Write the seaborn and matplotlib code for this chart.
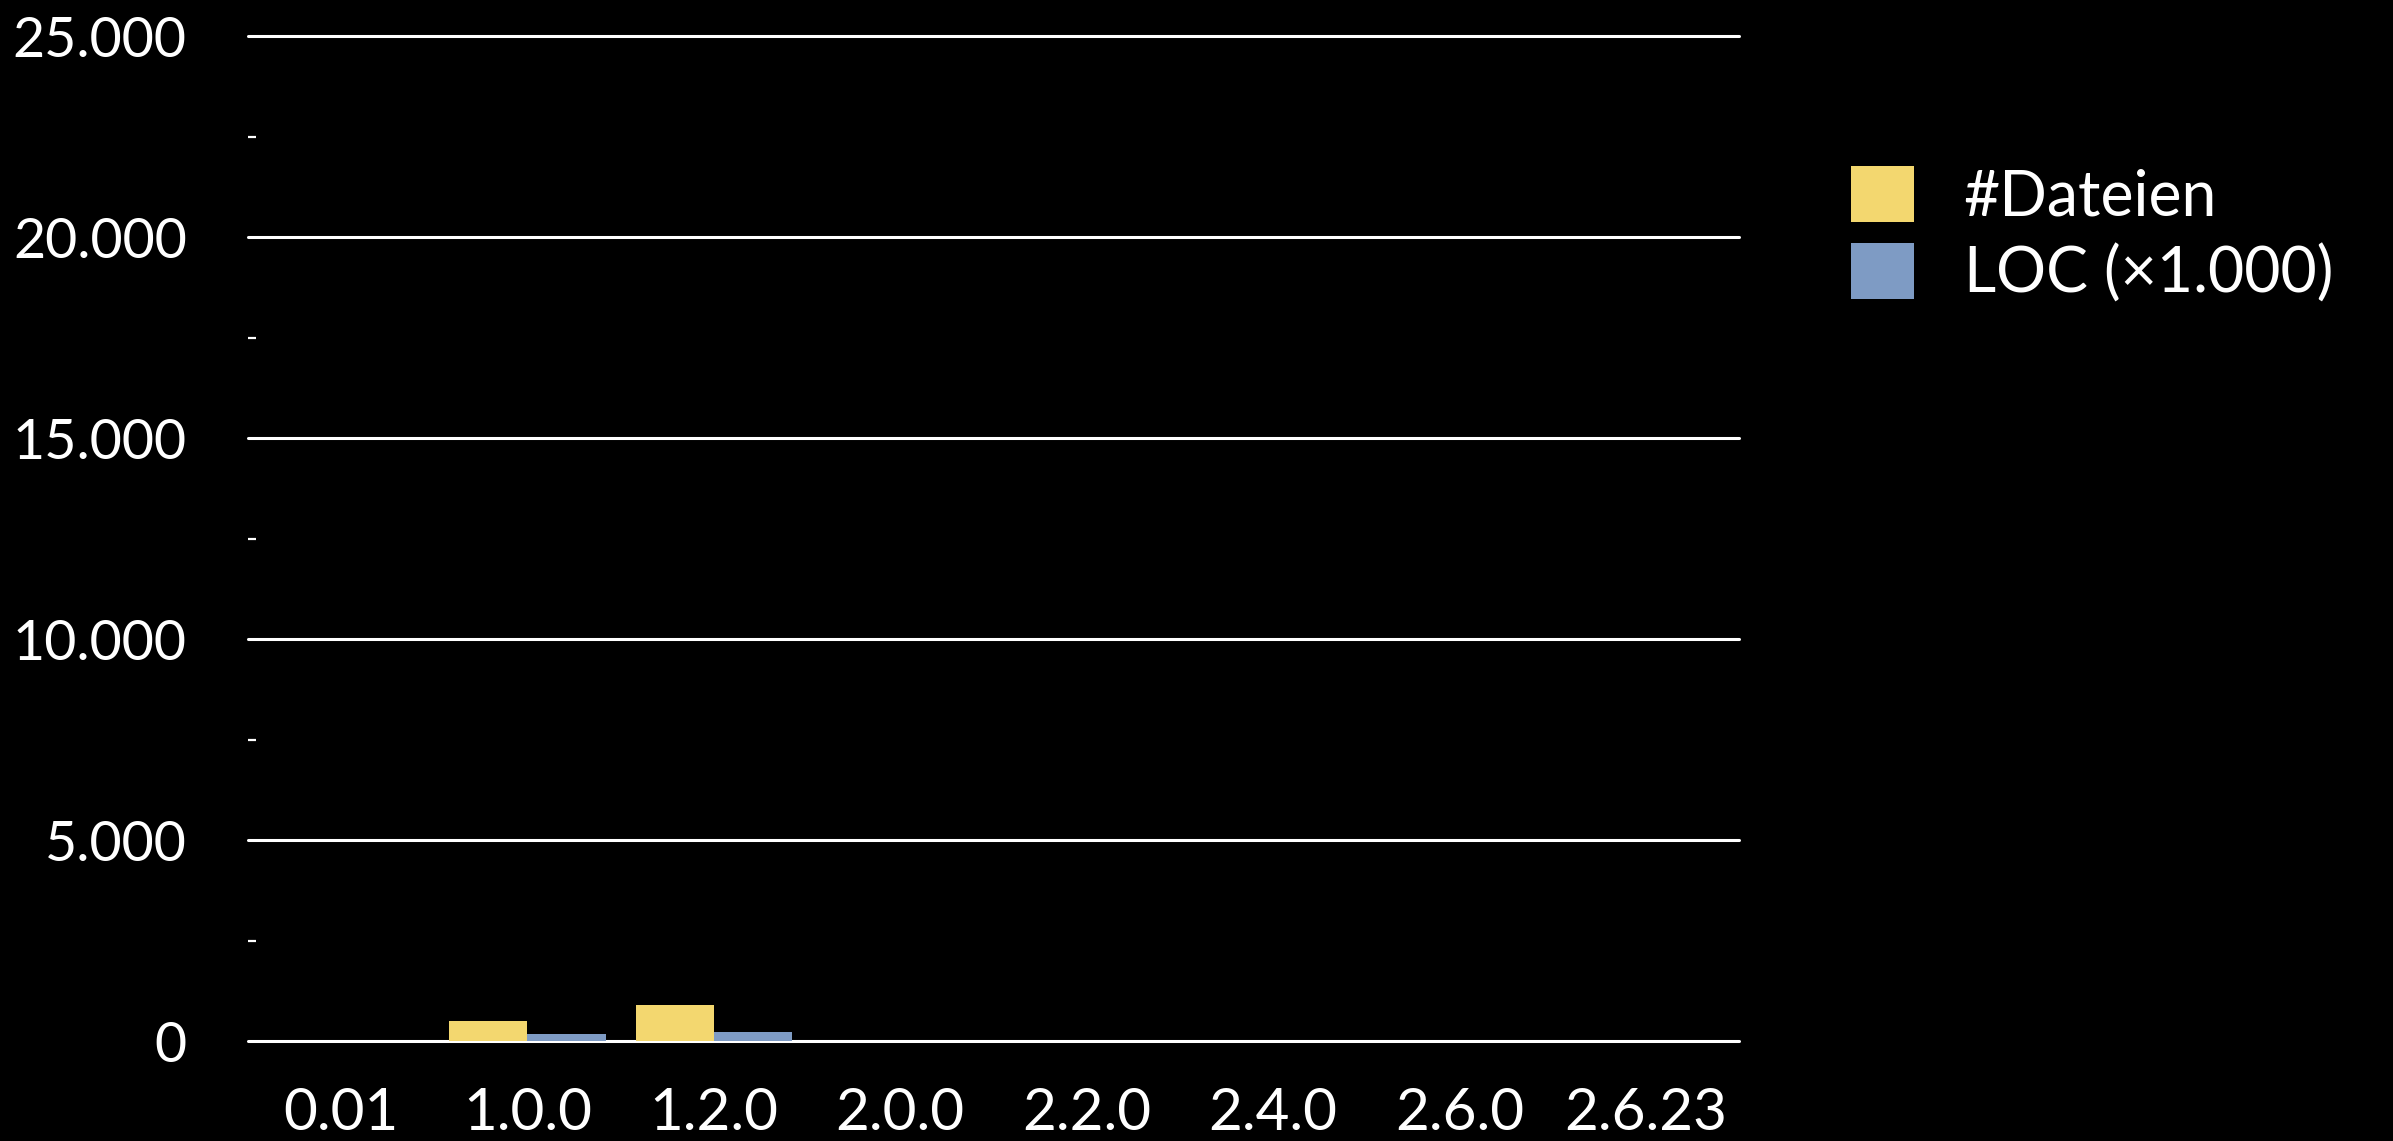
import matplotlib
matplotlib.use("Agg")
import matplotlib.pyplot as plt
from matplotlib.ticker import FuncFormatter, MultipleLocator
import pandas as pd
import seaborn as sns

# Linux kernel releases: number of files and lines of code (in thousands)
versions = ["0.01", "1.0.0", "1.2.0", "2.0.0", "2.2.0", "2.4.0", "2.6.0", "2.6.23"]
dateien = [0, 500, 900, 0, 0, 0, 0, 0]
loc_k = [0, 175, 220, 0, 0, 0, 0, 0]
series_names = ["#Dateien", "LOC (×1.000)"]
y_ticks = [0, 5000, 10000, 15000, 20000, 25000]

colors = {"#Dateien": "#F3D76F", "LOC (×1.000)": "#7E9BC4"}

df = pd.DataFrame({
    "Version": versions * 2,
    "Serie": [series_names[0]] * len(versions) + [series_names[1]] * len(versions),
    "Wert": dateien + loc_k,
})

sns.set_theme(style="dark")
plt.rcParams["font.family"] = ["Lato", "DejaVu Sans"]
plt.rcParams["text.color"] = "white"

fig = plt.figure(figsize=(23.93, 11.41), dpi=100, facecolor="black")
ax = fig.add_axes([0.1036, 0.0876, 0.6231, 0.8808])
ax.set_facecolor("black")

sns.barplot(data=df, x="Version", y="Wert", hue="Serie", order=versions,
            hue_order=series_names, palette=colors, width=0.84, gap=0,
            saturation=1, linewidth=0, edgecolor="none", ax=ax, legend=True, zorder=3)

ax.set_ylim(0, 25000)
ax.set_xlim(-0.5, len(versions) - 0.5)
ax.set_yticks(y_ticks)
ax.yaxis.set_minor_locator(MultipleLocator(2500))
ax.yaxis.set_major_formatter(FuncFormatter(lambda v, p: f"{int(v):,}".replace(",", ".")))

ax.grid(False)
for v in y_ticks:
    ax.axhline(v, color="white", linewidth=2.2, zorder=2, clip_on=False)

for s in ax.spines.values():
    s.set_visible(False)

ax.tick_params(axis="y", which="major", length=0, pad=44, labelsize=40, labelcolor="white")
ax.tick_params(axis="y", which="minor", left=True, direction="in", length=6,
               width=1.6, color="white")
ax.tick_params(axis="x", length=0, pad=33, labelsize=42, labelcolor="white")
ax.set_xlabel("")
ax.set_ylabel("")

handles, labels = ax.get_legend_handles_labels()
for h in handles:
    h.set_linewidth(0)
    h.set_edgecolor("none")
ax.get_legend().remove()
fig.legend(handles, labels, loc="upper left", bbox_to_anchor=(1851 / 2393, 1 - 166 / 1141),
           frameon=False, fontsize=45, handlelength=1.0, handleheight=1.0,
           handletextpad=0.8, labelspacing=0.27, borderpad=0, borderaxespad=0,
           labelcolor="white")

fig.savefig("out.png", dpi=100, facecolor="black")
